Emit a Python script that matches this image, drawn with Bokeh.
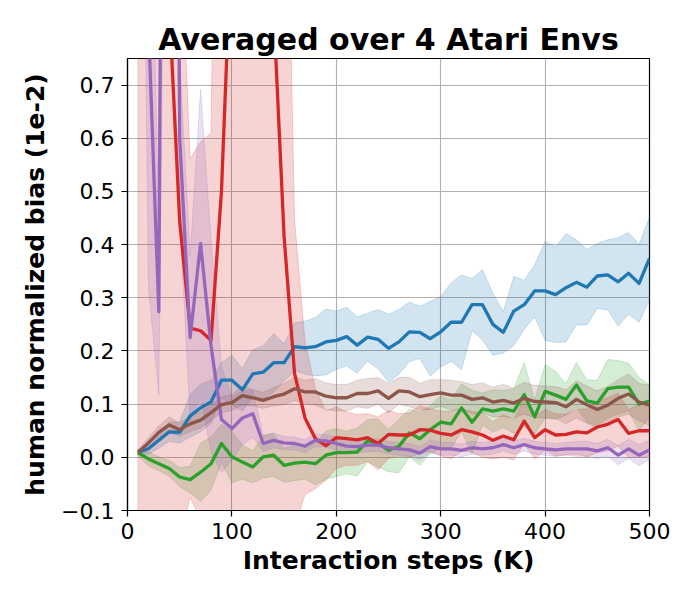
from bokeh.plotting import figure
from bokeh.models import FixedTicker, Range1d
from bokeh.embed import file_html
from bokeh.resources import INLINE

# Interaction steps (K)
steps = [10, 20, 30, 40, 50, 60, 70, 80, 90, 100,
         110, 120, 130, 140, 150, 160, 170, 180, 190, 200,
         210, 220, 230, 240, 250, 260, 270, 280, 290, 300,
         310, 320, 330, 340, 350, 360, 370, 380, 390, 400,
         410, 420, 430, 440, 450, 460, 470, 480, 490, 500]

blue_mean = [0.009, 0.016, 0.032, 0.048, 0.047, 0.078, 0.093, 0.104, 0.145, 0.145,
             0.127, 0.157, 0.160, 0.178, 0.178, 0.208, 0.206, 0.208, 0.217, 0.220,
             0.227, 0.211, 0.226, 0.222, 0.205, 0.217, 0.236, 0.235, 0.223, 0.236,
             0.254, 0.254, 0.287, 0.287, 0.250, 0.235, 0.275, 0.287, 0.313, 0.313,
             0.306, 0.319, 0.329, 0.320, 0.341, 0.343, 0.330, 0.346, 0.327, 0.374]
blue_std = [0.004, 0.010, 0.015, 0.018, 0.020, 0.040, 0.045, 0.040, 0.033, 0.047,
            0.040, 0.045, 0.050, 0.055, 0.035, 0.045, 0.050, 0.055, 0.062, 0.055,
            0.055, 0.053, 0.045, 0.056, 0.064, 0.061, 0.056, 0.049, 0.070, 0.066,
            0.074, 0.089, 0.049, 0.066, 0.058, 0.039, 0.065, 0.046, 0.049, 0.093,
            0.090, 0.102, 0.080, 0.071, 0.061, 0.066, 0.083, 0.077, 0.073, 0.078]

green_mean = [0.009, -0.003, -0.012, -0.021, -0.037, -0.042, -0.028, -0.012, 0.026, 0.001,
              -0.009, -0.018, 0.001, 0.004, -0.015, -0.011, -0.009, -0.012, 0.004, 0.009,
              0.009, 0.010, 0.031, 0.027, 0.013, 0.021, 0.046, 0.035, 0.052, 0.066,
              0.063, 0.093, 0.066, 0.091, 0.087, 0.091, 0.087, 0.118, 0.076, 0.124,
              0.117, 0.109, 0.136, 0.106, 0.102, 0.129, 0.132, 0.132, 0.100, 0.106]
green_std = [0.006, 0.013, 0.013, 0.015, 0.018, 0.025, 0.055, 0.050, 0.036, 0.048,
             0.032, 0.030, 0.040, 0.040, 0.032, 0.033, 0.032, 0.040, 0.045, 0.045,
             0.040, 0.045, 0.040, 0.045, 0.040, 0.050, 0.045, 0.050, 0.045, 0.050,
             0.045, 0.045, 0.060, 0.030, 0.040, 0.035, 0.042, 0.060, 0.032, 0.050,
             0.045, 0.030, 0.042, 0.040, 0.043, 0.055, 0.050, 0.045, 0.050, 0.030]

red_mean = [4.0, 5.0, 3.5, 0.85, 0.443, 0.243, 0.238, 0.220, 0.500, 1.00,
            1.8, 2.2, 1.6, 0.84, 0.415, 0.158, 0.074, 0.035, 0.022, 0.037,
            0.035, 0.033, 0.037, 0.026, 0.043, 0.042, 0.042, 0.052, 0.051, 0.045,
            0.042, 0.052, 0.048, 0.042, 0.032, 0.040, 0.033, 0.068, 0.037, 0.052,
            0.042, 0.043, 0.048, 0.046, 0.057, 0.062, 0.071, 0.045, 0.050, 0.050]
red_std = [4.5, 5.6, 4.0, 1.0, 0.60, 0.318, 0.355, 0.39, 1.6, 2.0,
           2.5, 2.5, 2.0, 1.2, 1.0, 0.29, 0.144, 0.094, 0.065, 0.058,
           0.050, 0.048, 0.045, 0.050, 0.045, 0.040, 0.042, 0.045, 0.040, 0.042,
           0.045, 0.040, 0.038, 0.042, 0.035, 0.040, 0.038, 0.042, 0.040, 0.038,
           0.040, 0.038, 0.042, 0.045, 0.048, 0.050, 0.050, 0.045, 0.050, 0.048]

purple_mean = [3.0, 0.82, 0.274, 4.0, 0.60, 0.225, 0.402, 0.210, 0.071, 0.054,
               0.074, 0.082, 0.026, 0.032, 0.027, 0.026, 0.021, 0.032, 0.031, 0.026,
               0.021, 0.020, 0.023, 0.023, 0.018, 0.016, 0.014, 0.008, 0.020, 0.016,
               0.016, 0.013, 0.018, 0.016, 0.018, 0.024, 0.018, 0.024, 0.018, 0.016,
               0.014, 0.016, 0.016, 0.016, 0.012, 0.018, 0.004, 0.016, 0.004, 0.014]
purple_std = [1.0, 0.50, 0.157, 2.0, 0.15, 0.155, 0.29, 0.20, 0.10, 0.06,
              0.05, 0.045, 0.015, 0.014, 0.012, 0.012, 0.012, 0.012, 0.012, 0.012,
              0.012, 0.012, 0.012, 0.012, 0.012, 0.012, 0.012, 0.012, 0.012, 0.012,
              0.012, 0.012, 0.012, 0.012, 0.012, 0.012, 0.012, 0.012, 0.012, 0.012,
              0.012, 0.012, 0.014, 0.014, 0.014, 0.016, 0.018, 0.018, 0.020, 0.018]

brown_mean = [0.009, 0.027, 0.047, 0.061, 0.052, 0.063, 0.070, 0.084, 0.099, 0.103,
              0.116, 0.112, 0.107, 0.114, 0.119, 0.129, 0.123, 0.123, 0.115, 0.112,
              0.112, 0.120, 0.120, 0.125, 0.111, 0.125, 0.123, 0.114, 0.118, 0.121,
              0.117, 0.117, 0.109, 0.112, 0.104, 0.107, 0.102, 0.111, 0.105, 0.104,
              0.103, 0.095, 0.109, 0.099, 0.090, 0.098, 0.111, 0.119, 0.104, 0.098]
brown_std = [0.005, 0.010, 0.012, 0.015, 0.012, 0.015, 0.015, 0.015, 0.015, 0.015,
             0.018, 0.015, 0.015, 0.017, 0.020, 0.022, 0.022, 0.025, 0.025, 0.025,
             0.025, 0.025, 0.028, 0.025, 0.028, 0.025, 0.028, 0.025, 0.028, 0.025,
             0.028, 0.025, 0.028, 0.028, 0.028, 0.030, 0.028, 0.030, 0.030, 0.030,
             0.030, 0.032, 0.035, 0.035, 0.035, 0.035, 0.035, 0.038, 0.035, 0.038]

x_ticks = [0, 100, 200, 300, 400, 500]
y_ticks = [-0.1, 0.0, 0.1, 0.2, 0.3, 0.4, 0.5, 0.6, 0.7]
y_tick_labels = ["\u22120.1", "0.0", "0.1", "0.2", "0.3", "0.4", "0.5", "0.6", "0.7"]

series = [
    (blue_mean, blue_std, "#1f77b4"),
    (green_mean, green_std, "#2ca02c"),
    (red_mean, red_std, "#d62728"),
    (purple_mean, purple_std, "#9467bd"),
    (brown_mean, brown_std, "#8c564b"),
]

FONT = "DejaVu Sans"

p = figure(width=692, height=592,
           x_range=Range1d(0, 500), y_range=Range1d(-0.1, 0.75),
           output_backend="svg", toolbar_location=None,
           min_border_left=127, min_border_right=43,
           min_border_top=58, min_border_bottom=82,
           title="Averaged over 4 Atari Envs")

p.background_fill_color = "white"
p.border_fill_color = "white"
p.outline_line_color = "black"
p.outline_line_width = 1.2
p.outline_line_alpha = 1.0

p.title.text_font = FONT
p.title.text_font_size = "30px"
p.title.text_font_style = "bold"
p.title.align = "center"
p.title.text_color = "black"
try:
    p.title.standoff = 4
except Exception:
    pass

# bands
for mean, std, color in series:
    lower = [m - s for m, s in zip(mean, std)]
    upper = [m + s for m, s in zip(mean, std)]
    xs = list(steps) + list(steps[::-1])
    ys = upper + lower[::-1]
    p.patch(xs, ys, fill_color=color, fill_alpha=0.2,
            line_color=color, line_alpha=0.2, line_width=1)

# lines
for mean, std, color in series:
    p.line(steps, mean, line_color=color, line_width=3.3, line_join="round")

p.xaxis.ticker = FixedTicker(ticks=x_ticks)
p.yaxis.ticker = FixedTicker(ticks=y_ticks)
p.xgrid.ticker = FixedTicker(ticks=x_ticks)
p.ygrid.ticker = FixedTicker(ticks=y_ticks)
p.yaxis.major_label_overrides = {t: l for t, l in zip(y_ticks, y_tick_labels)}
p.grid.grid_line_color = "#b0b0b0"
p.grid.grid_line_width = 1.1

p.xaxis.axis_label = "Interaction steps (K)"
p.yaxis.axis_label = "human normalized bias (1e-2)"

for ax in (p.xaxis[0], p.yaxis[0]):
    ax.major_label_text_font = FONT
    ax.major_label_text_font_size = "22px"
    ax.major_label_text_color = "black"
    ax.axis_label_text_font = FONT
    ax.axis_label_text_font_size = "25px"
    ax.axis_label_text_font_style = "bold"
    ax.axis_label_text_color = "black"
    ax.axis_line_color = "black"
    ax.axis_line_width = 1.2
    ax.major_tick_line_color = "black"
    ax.major_tick_line_width = 1.2
    ax.major_tick_out = 6
    ax.major_tick_in = 0
    ax.minor_tick_out = 0
    ax.minor_tick_in = 0
    ax.minor_tick_line_color = None

p.xaxis.major_label_standoff = 6
p.yaxis.major_label_standoff = 7
p.xaxis.axis_label_standoff = 4
p.yaxis.axis_label_standoff = 8

open("out.html", "w").write(file_html(p, INLINE))
